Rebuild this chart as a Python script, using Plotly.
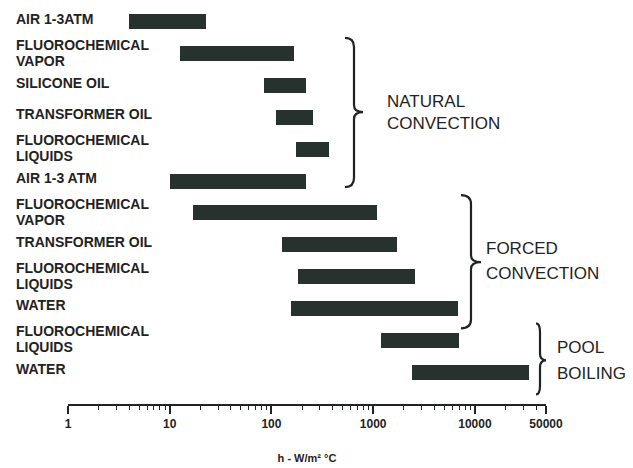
import plotly.graph_objects as go

# ---- data ----
labels = [
    "AIR 1-3ATM",
    "FLUOROCHEMICAL<br>VAPOR",
    "SILICONE OIL",
    "TRANSFORMER OIL",
    "FLUOROCHEMICAL<br>LIQUIDS",
    "AIR 1-3 ATM",
    "FLUOROCHEMICAL<br>VAPOR",
    "TRANSFORMER OIL",
    "FLUOROCHEMICAL<br>LIQUIDS",
    "WATER",
    "FLUOROCHEMICAL<br>LIQUIDS",
    "WATER",
]
h_low = [4, 12.5, 84, 112, 176, 10, 17, 128, 184, 157, 1200, 2400]
h_high = [22.5, 165, 220, 258, 370, 220, 1100, 1720, 2600, 6800, 7000, 34000]
groups = ["NATURAL<br>CONVECTION", "FORCED<br>CONVECTION", "POOL<br>BOILING"]
tick_vals = [1, 10, 100, 1000, 10000, 50000]
tick_text = ["1", "10", "100", "1000", "10000", "50000"]
x_title = "h - W/m² °C"

# ---- layout geometry (pixels) ----
W, H = 633, 468
L, R = 68, 87
T, B = 6.1, 64.4
PW, PH = W - L - R, H - T - B

def px(x):
    return (x - L) / PW

def py(y):
    return 1 - (y - T) / PH

bar_color = "#27322e"
ink = "#1f2322"
label_font = dict(family="Liberation Sans, Arial", size=14, color=ink, weight="bold")

rows = list(range(len(labels)))
fig = go.Figure()
fig.add_trace(go.Bar(
    y=rows,
    x=[hi - lo for lo, hi in zip(h_low, h_high)],
    base=h_low,
    orientation="h",
    width=0.47,
    marker=dict(color=bar_color, line=dict(width=0)),
    hoverinfo="skip",
))

annotations = []
# row labels
for i, lab in enumerate(labels):
    parts = lab.split("<br>")
    shifts = [3] if len(parts) == 1 else [9, -7]
    for part, shift in zip(parts, shifts):
        annotations.append(dict(x=px(14), y=i, xref="paper", yref="y", text=part,
                                showarrow=False, xanchor="left", yanchor="middle", yshift=shift,
                                font=label_font))

# braces and group labels (pixel geometry)
braces = [
    # top_y, bot_y, x_left, x_vert, x_tip, y_tip, text_x, text_y1, text_y2
    (38, 187, 345, 354, 363, 112, 385, 101, 123),
    (195, 328, 461, 471, 481, 262, 484, 248, 273),
    (323, 394, 536, 540, 546, 360, 555, 347, 373),
]
shapes = []
for (yt, yb, xl, xv, xt, ytip, tx, ty1, ty2), g in zip(braces, groups):
    pts = (
        f"M {px(xl)},{py(yt)} "
        f"Q {px(xv)},{py(yt)} {px(xv)},{py(yt + 9)} "
        f"L {px(xv)},{py(ytip - 7)} "
        f"Q {px(xv)},{py(ytip)} {px(xt)},{py(ytip)} "
        f"Q {px(xv)},{py(ytip)} {px(xv)},{py(ytip + 7)} "
        f"L {px(xv)},{py(yb - 9)} "
        f"Q {px(xv)},{py(yb)} {px(xl)},{py(yb)}"
    )
    shapes.append(dict(type="path", path=pts, xref="paper", yref="paper",
                       line=dict(color=ink, width=2.2)))
    for part, ty in zip(g.split("<br>"), [ty1, ty2]):
        annotations.append(dict(x=px(tx), y=py(ty), xref="paper", yref="paper", text=part,
                                showarrow=False, xanchor="left", yanchor="middle",
                                font=dict(family="Liberation Sans, Arial", size=17, color=ink)))

minor_vals = []
for d in [1, 10, 100, 1000, 10000]:
    for k in range(2, 10):
        v = k * d
        if v < 50000:
            minor_vals.append(v)

fig.update_layout(
    width=W, height=H,
    margin=dict(l=L, r=R, t=T, b=B, pad=0),
    paper_bgcolor="white", plot_bgcolor="white",
    showlegend=False,
    bargap=0,
    shapes=shapes,
    annotations=annotations,
    xaxis=dict(
        type="log",
        range=[0, 4.69897],
        tickvals=tick_vals, ticktext=tick_text,
        ticks="outside", ticklen=8, tickwidth=1.5, tickcolor=ink,
        showline=True, linecolor=ink, linewidth=2,
        showgrid=False, zeroline=False,
        tickfont=dict(family="Liberation Sans, Arial", size=12, color=ink, weight="bold"),
        minor=dict(tickvals=minor_vals, ticks="outside", ticklen=4, tickwidth=1.2,
                   tickcolor=ink, showgrid=False),
        title=dict(text=x_title, standoff=24,
                   font=dict(family="Liberation Sans, Arial", size=11, color=ink, weight="bold")),
        automargin=False,
    ),
    yaxis=dict(
        range=[12, -0.5],
        showticklabels=False, showgrid=False, zeroline=False, showline=False,
        ticks="",
    ),
)

fig.write_html("out.html", config={"displayModeBar": False},
               post_script="document.body.style.margin='0';")
